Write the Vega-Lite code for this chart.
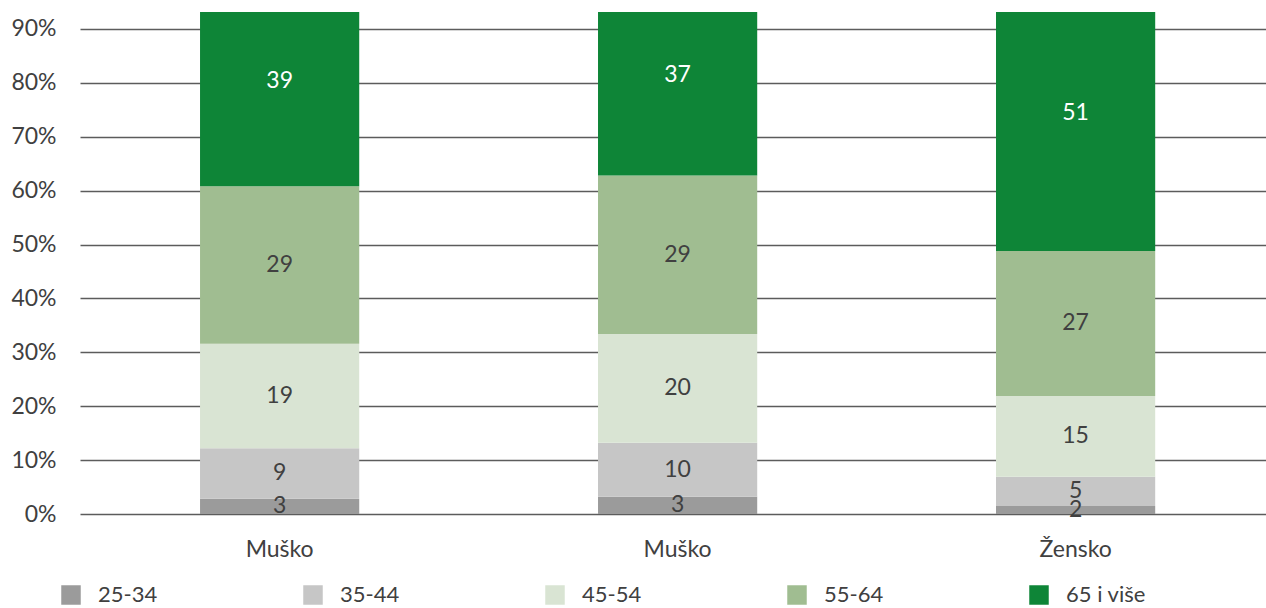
{
  "$schema": "https://vega.github.io/schema/vega-lite/v6.json",
  "width": 1186,
  "height": 502,
  "autosize": {"type": "none"},
  "padding": {"left": 80, "top": 12, "right": 0, "bottom": 94},
  "background": "white",
  "config": {
    "view": {"stroke": null},
    "font": "Lato",
    "axis": {"labelFont": "Lato", "labelColor": "#404040", "labelFontSize": 23},
    "legend": {"labelFont": "Lato", "labelColor": "#404040", "labelFontSize": 22}
  },
  "data": {
    "values": [
      {"stupac": 1, "spol": "Muško", "dob": "25-34", "udio": 2.85},
      {"stupac": 1, "spol": "Muško", "dob": "35-44", "udio": 9.35},
      {"stupac": 1, "spol": "Muško", "dob": "45-54", "udio": 19.4},
      {"stupac": 1, "spol": "Muško", "dob": "55-64", "udio": 29.2},
      {"stupac": 1, "spol": "Muško", "dob": "65 i više", "udio": 39.2},
      {"stupac": 2, "spol": "Muško", "dob": "25-34", "udio": 3.2},
      {"stupac": 2, "spol": "Muško", "dob": "35-44", "udio": 10.0},
      {"stupac": 2, "spol": "Muško", "dob": "45-54", "udio": 20.2},
      {"stupac": 2, "spol": "Muško", "dob": "55-64", "udio": 29.4},
      {"stupac": 2, "spol": "Muško", "dob": "65 i više", "udio": 37.2},
      {"stupac": 3, "spol": "Žensko", "dob": "25-34", "udio": 1.5},
      {"stupac": 3, "spol": "Žensko", "dob": "35-44", "udio": 5.4},
      {"stupac": 3, "spol": "Žensko", "dob": "45-54", "udio": 15.0},
      {"stupac": 3, "spol": "Žensko", "dob": "55-64", "udio": 26.9},
      {"stupac": 3, "spol": "Žensko", "dob": "65 i više", "udio": 51.2}
    ]
  },
  "encoding": {
    "x": {
      "field": "stupac",
      "type": "ordinal",
      "scale": {"paddingInner": 0.6, "paddingOuter": 0.29, "align": 0.52},
      "axis": {
        "title": null,
        "labelAngle": 0,
        "ticks": false,
        "domain": false,
        "labelPadding": 24,
        "labelExpr": "datum.value == 3 ? 'Žensko' : 'Muško'"
      }
    },
    "y": {
      "field": "udio",
      "type": "quantitative",
      "stack": "zero",
      "scale": {"domain": [0, 93.15], "nice": false, "zero": true},
      "axis": {
        "title": null,
        "values": [0, 10, 20, 30, 40, 50, 60, 70, 80, 90],
        "labelExpr": "datum.value + '%'",
        "ticks": false,
        "domain": false,
        "labelPadding": 24,
        "gridColor": "#5c5c5c",
        "gridWidth": 1.3
      }
    },
    "order": {"field": "dob", "sort": "ascending"}
  },
  "layer": [
    {
      "mark": {"type": "bar", "clip": true},
      "encoding": {
        "color": {
          "field": "dob",
          "type": "nominal",
          "scale": {
            "domain": ["25-34", "35-44", "45-54", "55-64", "65 i više"],
            "range": ["#9b9b9b", "#c6c6c6", "#d9e4d3", "#a0bd91", "#0e8537"]
          },
          "legend": {
            "title": null,
            "orient": "none",
            "direction": "horizontal",
            "columns": 5,
            "gridAlign": "all",
            "columnPadding": 124,
            "legendX": -20,
            "legendY": 572,
            "symbolType": "square",
            "symbolSize": 380,
            "symbolStrokeWidth": 0,
            "labelOffset": 16,
            "padding": 0
          }
        }
      }
    },
    {
      "mark": {"type": "text", "fontSize": 23, "font": "Lato", "baseline": "middle", "align": "center"},
      "encoding": {
        "y": {"field": "udio", "type": "quantitative", "stack": "zero", "bandPosition": 0.5},
        "text": {"field": "udio", "type": "quantitative", "format": ".0f"},
        "color": {
          "condition": {"test": "datum.dob == '65 i više'", "value": "#ffffff"},
          "value": "#404040"
        }
      }
    }
  ]
}
